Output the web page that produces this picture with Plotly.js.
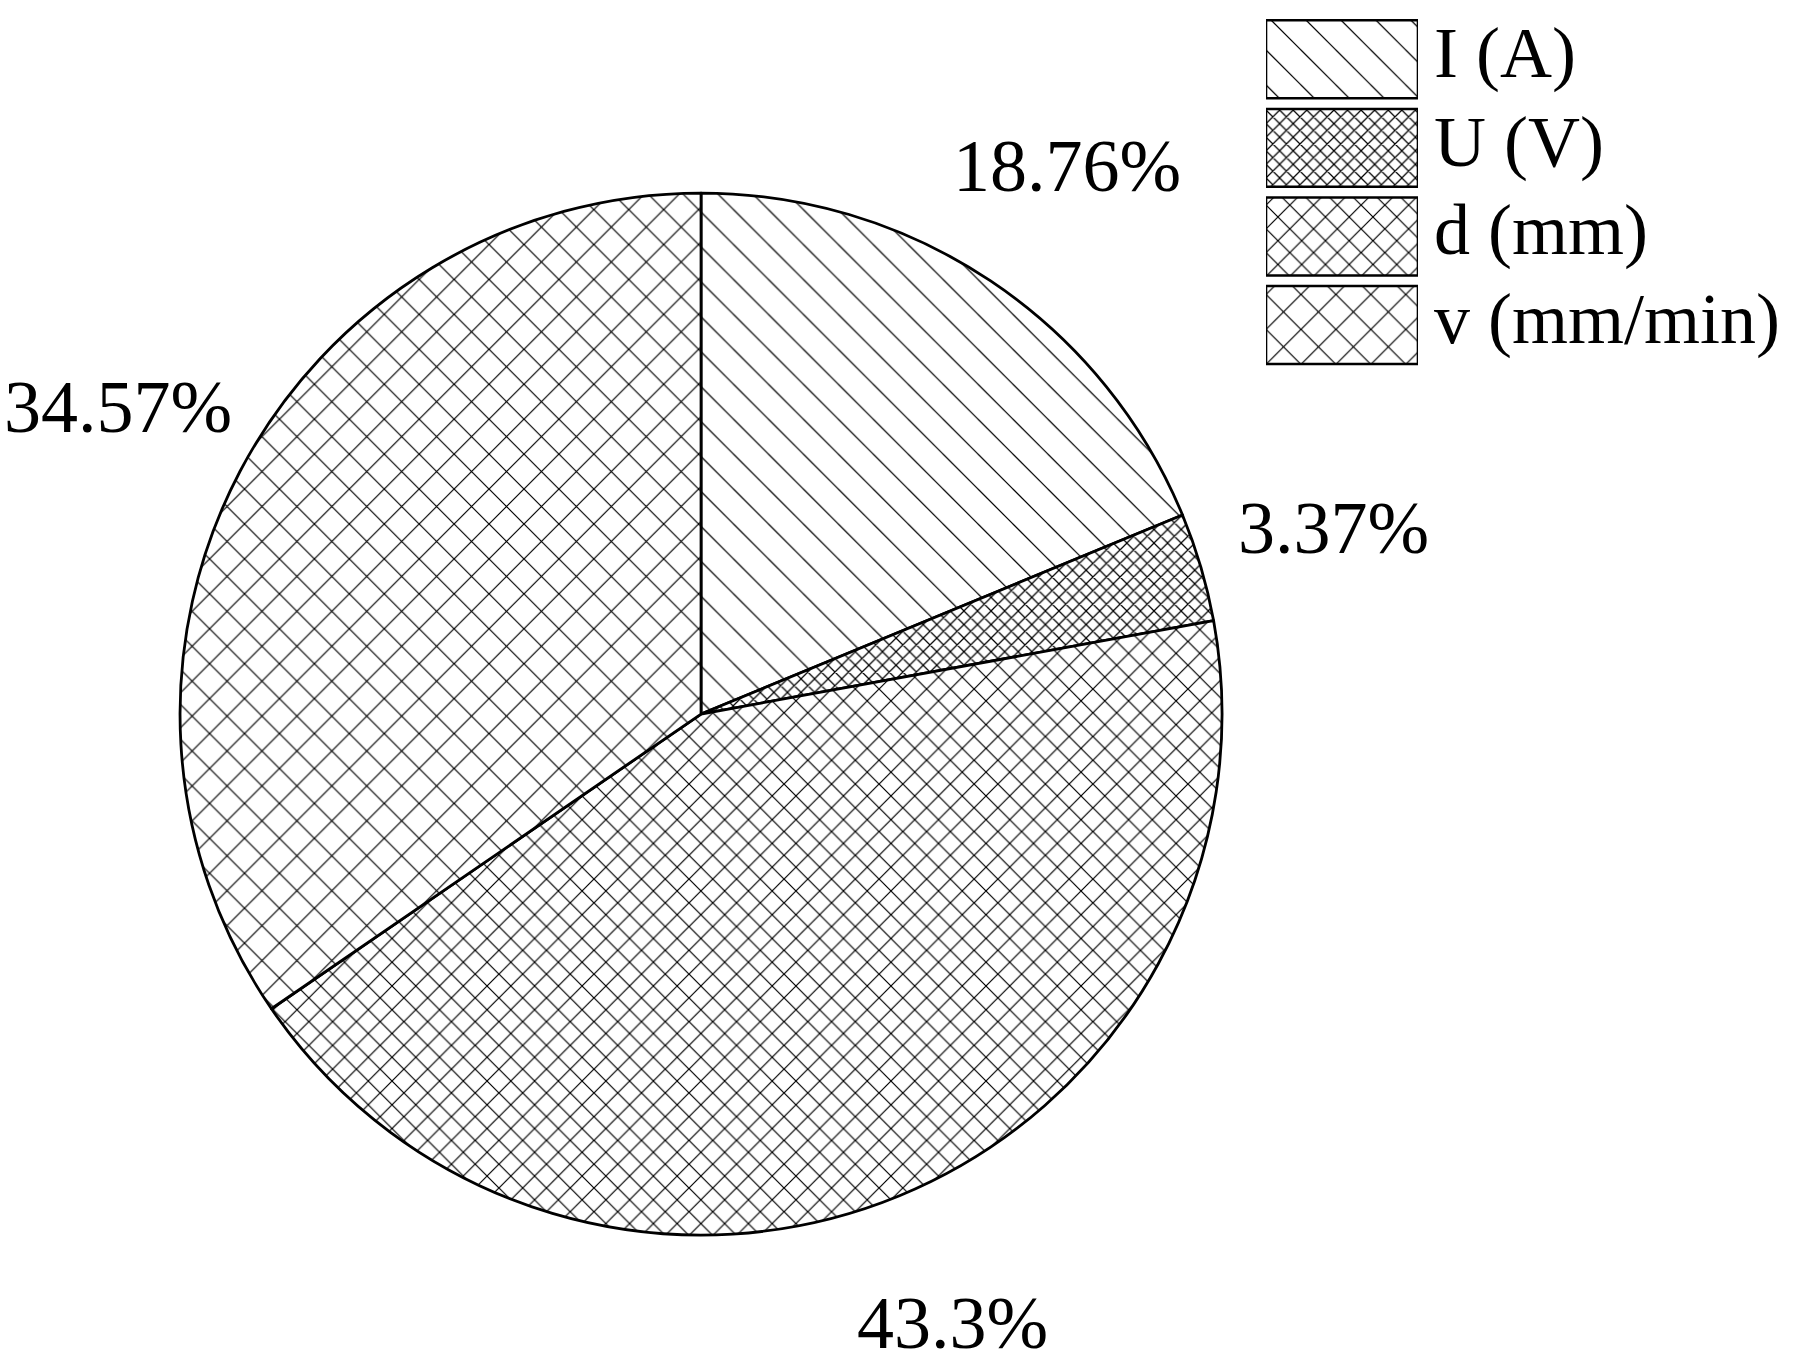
<!DOCTYPE html>
<html>
<head>
<meta charset="utf-8">
<script src="https://cdn.plot.ly/plotly-3.0.1.min.js"></script>
<style>
  html, body { margin: 0; padding: 0; background: #fff; }
  #chart { width: 1804px; height: 1365px; }
</style>
</head>
<body>
<div id="chart"></div>
<script>
// Share of each welding parameter (%)
const labels = ['I (A)', 'U (V)', 'd (mm)', 'v (mm/min)'];
const shares = [18.76, 3.37, 43.3, 34.57];

// Hatch styles, one per parameter
const hatchShapes = ['\\', 'x', 'x', 'x'];
const hatchSizes = [24.7, 9.6, 16.8, 24.7];
const hatchSolidity = [0.05, 0.24, 0.14, 0.095];

const serif = 'Liberation Serif, Times New Roman, serif';
const W = 1804, H = 1365;

//Pie placement
const pieDomainX = [0.0998, 0.6774];
const pieDomainY = [0.0952, 0.8586];
const labelDist = 1.265; // label centre, in pie radii

const pieTrace = {
    type: 'pie',
    labels: labels,
    values: shares,
    sort: false,
    direction: 'clockwise',
    rotation: 0,
    textinfo: 'none',
    automargin: false,
    domain: { x: pieDomainX, y: pieDomainY },
    marker: {
        colors: ['#fff', '#fff', '#fff', '#fff'],
        line: { color: '#000', width: 2.8 },
        pattern: {
            shape: hatchShapes,
            size: hatchSizes,
            solidity: hatchSolidity,
            fgcolor: '#000',
            bgcolor: '#fff',
            fillmode: 'replace'
        }
    },
    hoverinfo: 'label+percent',
    showlegend: false
};

// Legend drawn as a small bar subplot so the boxes can carry the same hatches
const legendTrace = {
    type: 'bar',
    orientation: 'h',
    y: labels,
    x: labels.map(() => 1),
    xaxis: 'x2',
    yaxis: 'y2',
    marker: {
        color: '#fff',
        line: { color: '#000', width: 2.5 },
        pattern: {
            shape: hatchShapes,
            size: hatchSizes,
            solidity: hatchSolidity,
            fgcolor: '#000',
            bgcolor: '#fff',
            fillmode: 'replace'
        }
    },
    hoverinfo: 'y',
    showlegend: false
};

// percentage labels around the pie, at each slice's middle angle
const total = shares.reduce((a, b) => a + b, 0);
const cx = (pieDomainX[0] + pieDomainX[1]) / 2;
const cy = (pieDomainY[0] + pieDomainY[1]) / 2;
const rPx = Math.min((pieDomainX[1] - pieDomainX[0]) * W, (pieDomainY[1] - pieDomainY[0]) * H) / 2;
const annotations = [];
let cum = 0;
shares.forEach(function(s) {
    const mid = (cum + s / 2) / total * 2 * Math.PI;
    cum += s;
    annotations.push({
        xref: 'paper', yref: 'paper',
        x: cx + labelDist * rPx * Math.sin(mid) / W,
        y: cy + labelDist * rPx * Math.cos(mid) / H,
        xanchor: 'center', yanchor: 'middle',
        text: s + '%',
        showarrow: false,
        font: { family: serif, size: 74, color: '#000' }
    });
});

// legend texts
labels.forEach(function(l) {
    annotations.push({
        xref: 'x2', yref: 'y2',
        x: 1, y: l,
        xanchor: 'left', yanchor: 'middle',
        xshift: 14, yshift: 6,
        text: l,
        showarrow: false,
        font: { family: serif, size: 72, color: '#000' }
    });
});

const layout = {
    width: W,
    height: H,
    margin: { l: 0, r: 0, t: 0, b: 0 },
    paper_bgcolor: '#fff',
    plot_bgcolor: 'rgba(0,0,0,0)',
    showlegend: false,
    bargap: 0.12,
    annotations: annotations,
    xaxis2: {
        domain: [0.7018, 0.786],
        range: [0, 1],
        anchor: 'y2',
        visible: false,
        fixedrange: true
    },
    yaxis2: {
        domain: [0.7267, 0.989],
        anchor: 'x2',
        type: 'category',
        autorange: 'reversed',
        showgrid: false,
        zeroline: false,
        showline: false,
        showticklabels: false,
        ticks: '',
        fixedrange: true
    }
};

Plotly.newPlot('chart', [pieTrace, legendTrace], layout, { displayModeBar: false, staticPlot: true });
</script>
</body>
</html>
